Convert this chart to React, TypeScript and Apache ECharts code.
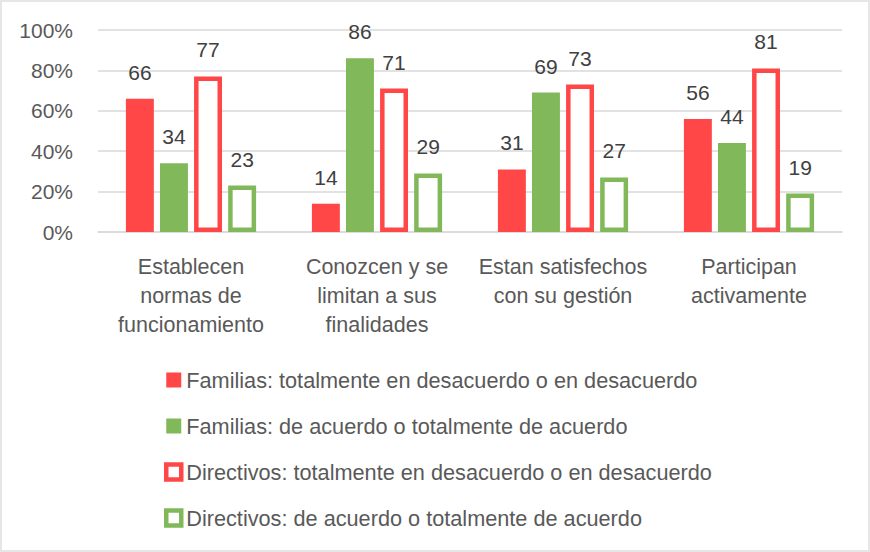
import React, { useEffect, useRef } from "react";
import * as echarts from "echarts";

const categories = [
  "Establecen\nnormas de\nfuncionamiento",
  "Conozcen y se\nlimitan a sus\nfinalidades",
  "Estan satisfechos\ncon su gestión",
  "Participan\nactivamente",
];
const famDesacuerdo = [66, 14, 31, 56];
const famAcuerdo = [34, 86, 69, 44];
const dirDesacuerdo = [77, 71, 73, 81];
const dirAcuerdo = [23, 29, 27, 19];
const seriesNames = [
  "Familias: totalmente en desacuerdo o en desacuerdo",
  "Familias: de acuerdo o totalmente de acuerdo",
  "Directivos: totalmente en desacuerdo o en desacuerdo",
  "Directivos: de acuerdo o totalmente de acuerdo",
];

const RED = "#FF4747";
const GREEN = "#81B95A";
const FONT = "'Liberation Sans', Arial, sans-serif";

export default function App() {
  const ref = useRef<HTMLDivElement>(null);
  useEffect(() => {
    document.body.style.margin = "0";
    const chart = echarts.init(ref.current!, null, { renderer: "svg" });
    const label = {
      show: true,
      position: "top",
      distance: 16,
      fontSize: 21,
      color: "#404040",
      fontFamily: FONT,
    };
    const filled = (name: string, data: number[], color: string) => ({
      name,
      type: "bar",
      data,
      itemStyle: { color },
      label,
    });
    const outlined = (name: string, data: number[], color: string) => ({
      name,
      type: "bar",
      data,
      itemStyle: { color: "#FFFFFF", borderColor: color, borderWidth: 4.5 },
      label: { ...label, distance: 16 },
    });
    chart.setOption({
      animation: false,
      backgroundColor: "#FFFFFF",
      grid: { left: 98, right: 28, top: 30, bottom: 320, containLabel: false },
      xAxis: {
        type: "category",
        data: categories,
        axisLine: { show: true, lineStyle: { color: "#D9D9D9", width: 1.5 } },
        axisTick: { show: false },
        axisLabel: {
          fontSize: 21.5,
          color: "#595959",
          fontFamily: FONT,
          lineHeight: 29,
          margin: 20,
          interval: 0,
        },
      },
      yAxis: {
        type: "value",
        min: 0,
        max: 100,
        interval: 20,
        axisLabel: {
          formatter: "{value}%",
          fontSize: 21,
          color: "#595959",
          fontFamily: FONT,
          margin: 25,
        },
        splitLine: { lineStyle: { color: "#D9D9D9", width: 1.5 } },
        axisLine: { show: false },
        axisTick: { show: false },
      },
      legend: {
        orient: "vertical",
        left: 159,
        top: 364,
        itemWidth: 15,
        itemHeight: 15,
        itemGap: 24,
        icon: "rect",
        textStyle: { fontSize: 21.7, color: "#595959", fontFamily: FONT },
        data: [
          { name: seriesNames[0] },
          { name: seriesNames[1] },
          { name: seriesNames[2], itemStyle: { borderWidth: 4.5 } },
          { name: seriesNames[3], itemStyle: { borderWidth: 4.5 } },
        ],
      },
      series: [
        { ...filled(seriesNames[0], famDesacuerdo, RED), barGap: "22%", barCategoryGap: "30%" },
        filled(seriesNames[1], famAcuerdo, GREEN),
        outlined(seriesNames[2], dirDesacuerdo, RED),
        outlined(seriesNames[3], dirAcuerdo, GREEN),
      ],
    });
    return () => chart.dispose();
  }, []);
  return (
    <div style={{ position: "fixed", left: 0, top: 0, width: 870, height: 552 }}>
      <div ref={ref} style={{ position: "absolute", left: 0, top: 0, width: 870, height: 552 }} />
      <div
        style={{
          position: "absolute",
          left: 0,
          top: 0,
          width: 870,
          height: 552,
          boxSizing: "border-box",
          border: "2px solid #E6E6E6",
          pointerEvents: "none",
        }}
      />
    </div>
  );
}
